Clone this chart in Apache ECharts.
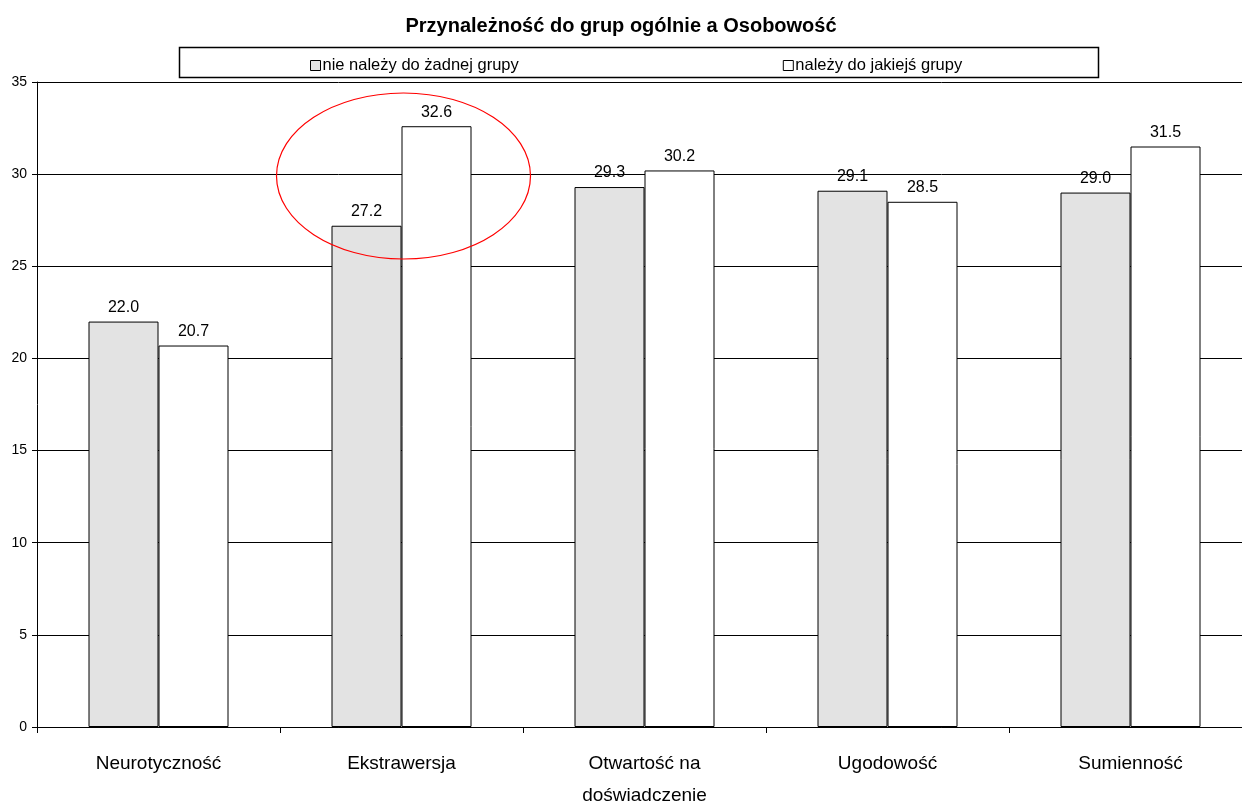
<!DOCTYPE html>
<html><head><meta charset="utf-8">
<script src="https://cdn.jsdelivr.net/npm/echarts@6/dist/echarts.min.js"></script>
<style>html,body{margin:0;padding:0;background:#fff}#c{width:1242px;height:802px}</style>
</head><body><div id="c"></div>
<script>
const categories = ['Neurotyczność','Ekstrawersja','Otwartość na\ndoświadczenie','Ugodowość','Sumienność'];
const seriesNames = ['nie należy do żadnej grupy','należy do jakiejś grupy'];
const noGroup = [22.0, 27.2, 29.3, 29.1, 29.0];
const inGroup = [20.7, 32.6, 30.2, 28.5, 31.5];
const yTicks = [0,5,10,15,20,25,30,35];

const chart = echarts.init(document.getElementById('c'), null, {renderer:'canvas'});
const lbl = {show:true, position:'top', distance:6, fontSize:16, color:'#000', fontFamily:'Arial, Liberation Sans', formatter: p => p.value.toFixed(1)};
chart.setOption({
  animation:false,
  title:{text:'Przynależność do grup ogólnie a Osobowość', left:'center', top:11, textStyle:{fontSize:20, fontWeight:'bold', color:'#000', fontFamily:'Arial, Liberation Sans'}},
  legend:{top:52, left:305, itemGap:264, itemWidth:10, itemHeight:10, icon:'rect', data:seriesNames,
    textStyle:{fontSize:16.5, color:'#000', fontFamily:'Arial, Liberation Sans', padding:[0,0,0,-3]},
    itemStyle:{borderColor:'#000', borderWidth:1}},
  grid:{left:37, right:-10, top:82, bottom:75, outerBoundsMode:'none', containLabel:false},
  xAxis:{type:'category', data:categories,
    axisLine:{lineStyle:{color:'#000', width:1}},
    axisTick:{show:true, alignWithLabel:false, length:6, lineStyle:{color:'#000'}},
    axisLabel:{fontSize:19, color:'#000', margin:21, lineHeight:32, fontFamily:'Liberation Sans Narrow, Arial Narrow, Arial', interval:0}},
  yAxis:{type:'value', min:yTicks[0], max:yTicks[yTicks.length-1], interval:5,
    axisLine:{show:true, lineStyle:{color:'#000'}},
    axisTick:{show:true, length:5, lineStyle:{color:'#000'}},
    axisLabel:{fontSize:14, color:'#000', margin:10, fontFamily:'Arial, Liberation Sans'},
    splitLine:{show:true, lineStyle:{color:'#000', width:1}}},
  series:[
    {name:seriesNames[0], type:'bar', data:noGroup, barWidth:70, barGap:'0%',
     itemStyle:{color:'#e3e3e3', borderColor:'#000', borderWidth:1}, label:lbl},
    {name:seriesNames[1], type:'bar', data:inGroup, barWidth:70,
     itemStyle:{color:'#fff', borderColor:'#000', borderWidth:1}, label:lbl}
  ]
});
const ctr = chart.convertToPixel({xAxisIndex:0, yAxisIndex:0}, [1, 29.9]);
chart.setOption({graphic:[
  {type:'rect', left:177, top:45, shape:{x:0,y:0,width:919,height:30}, style:{fill:'none', stroke:'#000', lineWidth:1.5}, z:-1},
  {type:'ellipse', shape:{cx:ctr[0]+2, cy:ctr[1], rx:127, ry:83}, style:{fill:'none', stroke:'#ff0000', lineWidth:1.2}, z:100}
]});
</script></body></html>
